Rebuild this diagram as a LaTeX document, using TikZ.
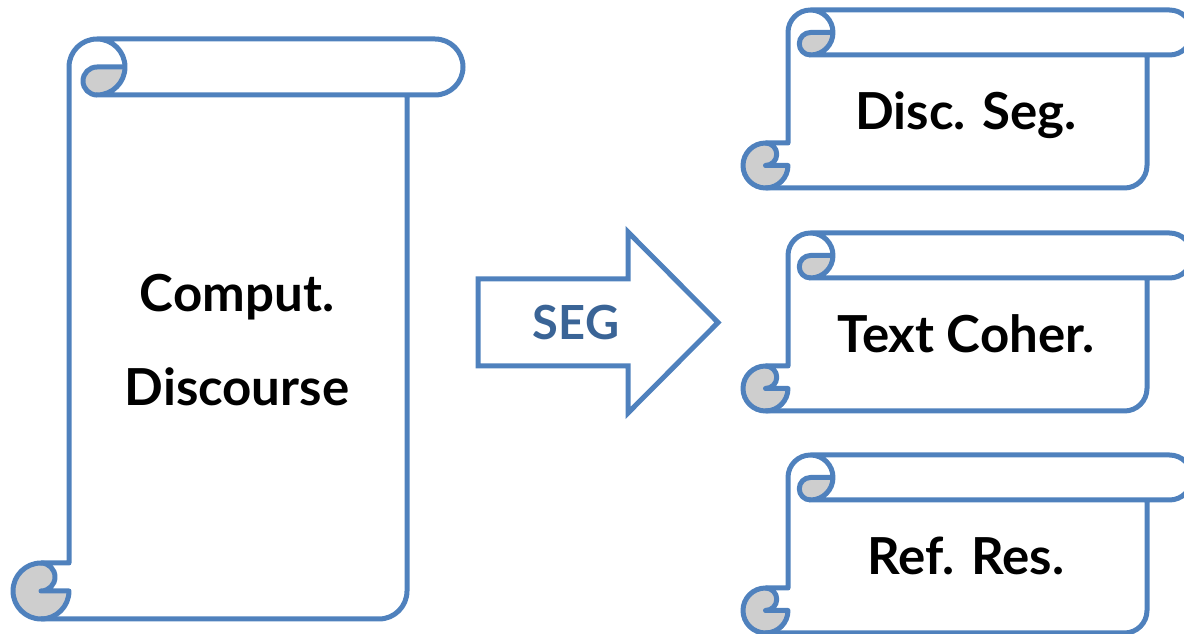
\documentclass[tikz,border=0pt]{standalone}
\usepackage{fontspec}
\setmainfont{Lato}
\usepackage{xcolor}
\usepackage{tikz}
\usetikzlibrary{calc}

\definecolor{scrollblue}{HTML}{4F81BD}
\definecolor{curlgrey}{HTML}{CECECE}
\definecolor{segblue}{HTML}{3A6496}

\tikzset{
	scrollline/.style = {draw = scrollblue, line width = 5pt, line join = round},
	curl/.style = {fill = curlgrey},
	scrolltext/.style = {font = \bfseries\fontsize{51}{60}\selectfont, text = black, inner sep = 0pt}
}

\newcommand{\drawscroll}[5]{%
	\pgfmathsetmacro\sL{#1}
	\pgfmathsetmacro\sB{#2}
	\pgfmathsetmacro\sR{#1+#3}
	\pgfmathsetmacro\sT{#2+#4}
	\pgfmathsetmacro\sC{#5}
	\pgfmathsetmacro\sCh{#5/2}
	\pgfmathsetmacro\sCq{#5/4}
	\fill [curl] (\sL+\sCh,\sB+\sC) arc (90:360:\sCh pt) -- (\sL+\sCh,\sB+\sCh) arc (-90:90:\sCq pt) -- cycle;
	\fill [curl] (\sL+\sC+\sCh,\sT-\sCh) -- (\sL+\sC+\sC,\sT-\sCh) arc (0:-90:\sCh pt) arc (270:90:\sCq pt) -- cycle;
	\draw [scrollline] (\sR-\sC,\sT-\sC) -- (\sR-\sC,\sB+\sCh) arc (0:-90:\sCh pt) -- (\sL+\sCh,\sB) arc (270:90:\sCh pt) -- (\sL+\sC,\sB+\sC) -- (\sL+\sC,\sT-\sCh) arc (180:90:\sCh pt) -- (\sR-\sCh,\sT) arc (90:-90:\sCh pt) -- (\sL+\sC+\sCh,\sT-\sC) arc (-90:90:\sCh pt);
	\draw [scrollline] (\sL+\sCh,\sB) arc (-90:0:\sCh pt) -- (\sL+\sCh,\sB+\sCh) arc (-90:90:\sCq pt);
	\draw [scrollline] (\sL+\sC+\sC,\sT-\sCh) -- (\sL+\sC+\sCh,\sT-\sCh) arc (90:270:\sCq pt);
}

\begin{document}
\begin{tikzpicture}[x = 1pt, y = 1pt]
			\useasboundingbox (0,0) rectangle (1184,634);

			\begin{scope}
				\drawscroll{13}{15}{450}{580}{56}
				\node [scrolltext, align = center] (comput) at (237,294) {Comput.\\[34pt]Discourse};
			\end{scope}

			\begin{scope}
				\draw [scrollline, line join = miter] (478,268) -- (628,268) -- (628,221) -- (718,311.5) -- (628,402) -- (628,355) -- (478,355) -- cycle;
				\node [font = \bfseries\fontsize{47}{56}\selectfont, text = segblue] (seg) at (576,311.5) {SEG};
			\end{scope}

			\begin{scope}
				\foreach \b/\txt/\nm in {446/Disc. Seg./discseg, 223/Text Coher./textcoher, 1/Ref. Res./refres}
				{
					\drawscroll{743}{\b}{449}{178}{45}
					\node [scrolltext, anchor = base] (\nm) at (966,\b+58) {\txt};
				}
			\end{scope}
		\end{tikzpicture}
\end{document}
